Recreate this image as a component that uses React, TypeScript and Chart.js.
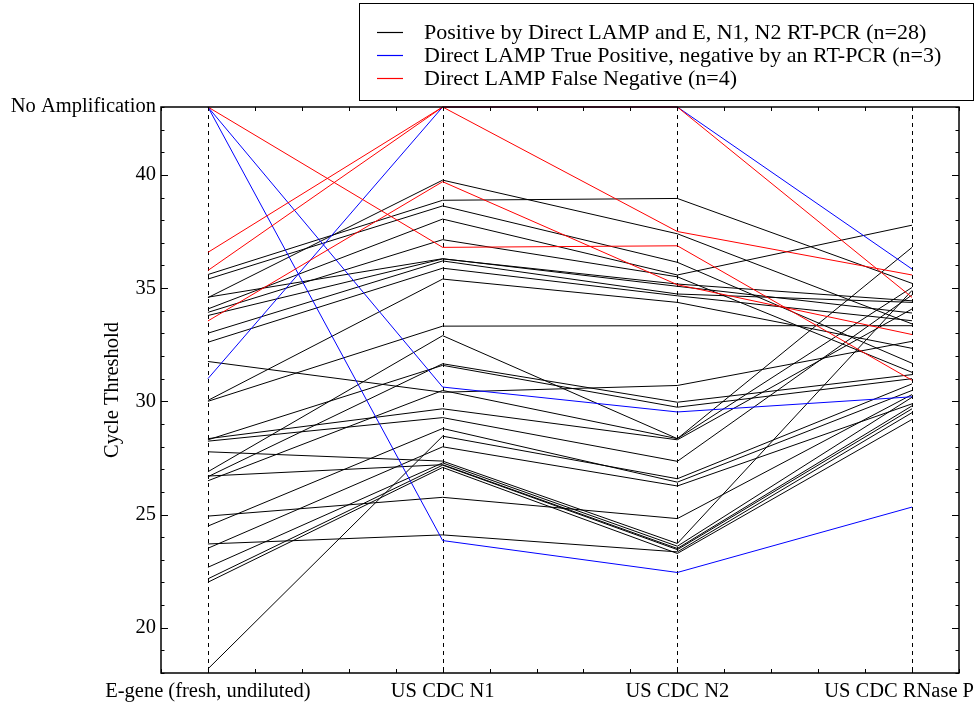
import { useEffect, useRef } from 'react';
import { Chart, registerables } from 'chart.js';

Chart.register(...registerables);

const categories = ['E-gene (fresh, undiluted)', 'US CDC N1', 'US CDC N2', 'US CDC RNase P'];
const NO_AMP = 43;
const noAmpLabel = 'No Amplification';
const yLabelTicks = [20, 25, 30, 35, 40];
const groupLabels = [
  'Positive by Direct LAMP and E, N1, N2 RT-PCR (n=28)',
  'Direct LAMP True Positive, negative by an RT-PCR (n=3)',
  'Direct LAMP False Negative (n=4)',
];
const groupColors = ['#000000', '#0000ff', '#ff0000'];

// Cycle threshold per sample: [E-gene, N1, N2, RNase P]; 43 = No Amplification
const blackLines = [
  [35.6, 38.88, 38.96, 35.21],
  [34.58, 39.77, 37.4, 33.42],
  [35.4, 38.63, 36.14, 31.68],
  [34.08, 38.05, 35.58, 37.78],
  [33.93, 37.14, 35.5, 31.28],
  [33.79, 36.29, 35.18, 34.44],
  [33.01, 36.2, 34.74, 34.37],
  [32.61, 35.88, 34.66, 33.56],
  [30.04, 35.4, 34.37, 32.34],
  [30.0, 33.32, 33.34, 33.34],
  [34.6, 36.3, 35.08, 33.9],
  [31.76, 30.4, 30.7, 32.65],
  [26.89, 32.9, 28.35, 36.8],
  [26.67, 31.66, 29.96, 31.18],
  [28.3, 31.59, 29.74, 31.0],
  [26.49, 30.48, 28.35, 35.03],
  [28.35, 29.67, 28.3, 34.08],
  [28.24, 29.28, 27.35, 34.7],
  [18.18, 28.46, 26.58, 30.77],
  [24.49, 28.8, 26.43, 30.48],
  [23.51, 27.99, 26.26, 29.89],
  [27.77, 27.36, 23.72, 34.9],
  [22.67, 27.28, 23.6, 30.18],
  [22.16, 27.18, 23.45, 29.67],
  [22.01, 27.08, 23.28, 29.2],
  [24.93, 25.76, 24.82, 30.3],
  [23.7, 24.1, 23.35, 29.5],
  [26.7, 27.2, 23.5, 29.8],
];
const blueLines = [
  [NO_AMP, 30.63, 29.53, 30.2],
  [NO_AMP, 23.85, 22.44, 25.33],
  [31.0, NO_AMP, NO_AMP, 35.84],
];
const redLines = [
  [NO_AMP, 36.8, 36.87, 30.93],
  [36.58, NO_AMP, NO_AMP, 34.59],
  [35.78, NO_AMP, 37.5, 35.58],
  [33.55, 39.7, 35.15, 32.95],
];

const FONT = 'Liberation Serif, "Times New Roman", Times, serif';
const FS = 20.5;
const LEGEND_FS = 22;

const makeDatasets = (lines: number[][], group: number) =>
  lines.map((vals, i) => ({
    label: i === 0 ? groupLabels[group] : '',
    data: vals.map((v, k) => ({ x: k, y: v })),
    borderColor: groupColors[group],
    backgroundColor: groupColors[group],
    borderWidth: 1,
    pointRadius: 0,
    fill: false,
    tension: 0,
    clip: 3,
  }));

const framePlugin = {
  id: 'framePlugin',
  beforeDatasetsDraw(chart: any) {
    const { ctx, chartArea: a, scales } = chart;
    ctx.save();
    ctx.strokeStyle = '#000';
    ctx.lineWidth = 1;
    ctx.setLineDash([4, 4]);
    categories.forEach((_, i) => {
      const x = Math.round(scales.x.getPixelForValue(i)) + 0.5;
      ctx.beginPath();
      ctx.moveTo(x, a.top);
      ctx.lineTo(x, a.bottom);
      ctx.stroke();
    });
    ctx.restore();
  },
  afterDatasetsDraw(chart: any) {
    const { ctx, chartArea: a, scales, width } = chart;
    ctx.save();
    ctx.strokeStyle = '#000';
    ctx.lineWidth = 1.5;
    ctx.setLineDash([]);
    ctx.strokeRect(a.left, a.top, a.right - a.left, a.bottom - a.top);
    ctx.lineWidth = 1;
    // x minor ticks
    for (let i = 0; i <= 17; i++) {
      const v = -0.2 + i * 0.2;
      const x = Math.round(scales.x.getPixelForValue(v)) + 0.5;
      ctx.beginPath();
      ctx.moveTo(x, a.bottom);
      ctx.lineTo(x, a.bottom - 4);
      ctx.moveTo(x, a.top);
      ctx.lineTo(x, a.top + 4);
      ctx.stroke();
    }
    // y ticks
    for (let v = 18; v <= 43; v++) {
      const y = Math.round(scales.y.getPixelForValue(v)) + 0.5;
      const len = v % 5 === 0 ? 7 : 3.5;
      ctx.beginPath();
      ctx.moveTo(a.left, y);
      ctx.lineTo(a.left + len, y);
      ctx.moveTo(a.right, y);
      ctx.lineTo(a.right - len, y);
      ctx.stroke();
    }
    // category labels under the axis (kept inside the figure)
    ctx.fillStyle = '#000';
    ctx.font = `${FS}px ${FONT}`;
    ctx.textAlign = 'left';
    ctx.textBaseline = 'middle';
    categories.forEach((lab, i) => {
      const w = ctx.measureText(lab).width;
      let x = scales.x.getPixelForValue(i) - w / 2;
      if (x + w > width - 3) x = width - 3 - w;
      ctx.fillText(lab, x, a.bottom + 19);
    });
    // legend box
    ctx.lineWidth = 1;
    ctx.strokeStyle = '#000';
    ctx.strokeRect(359.5, 3.5, 614, 97);
    ctx.font = `${LEGEND_FS}px ${FONT}`;
    groupLabels.forEach((lab, i) => {
      const y = 32 + i * 23;
      ctx.strokeStyle = groupColors[i];
      ctx.lineWidth = 1.2;
      ctx.beginPath();
      ctx.moveTo(377, y + 0.5);
      ctx.lineTo(403, y + 0.5);
      ctx.stroke();
      ctx.fillStyle = '#000';
      ctx.fillText(lab, 424, y + 1);
    });
    ctx.restore();
  },
};

export default function App() {
  const ref = useRef<HTMLCanvasElement>(null);
  useEffect(() => {
    if (!ref.current) return;
    const chart = new Chart(ref.current, {
      type: 'line',
      data: {
        datasets: [
          ...makeDatasets(redLines, 2),
          ...makeDatasets(blueLines, 1),
          ...makeDatasets(blackLines, 0),
        ],
      },
      options: {
        responsive: false,
        animation: false,
        layout: { padding: { top: 107, right: 18, left: 0, bottom: 0 } },
        plugins: { legend: { display: false }, tooltip: { enabled: false } },
        scales: {
          x: {
            type: 'linear',
            min: -0.2,
            max: 3.2,
            grid: { display: false, drawTicks: false },
            border: { display: false },
            ticks: { display: false, stepSize: 0.2 },
            afterFit: (s: any) => {
              s.height = 31;
            },
          },
          y: {
            type: 'linear',
            min: 18,
            max: 43,
            grid: { display: false, drawTicks: false },
            border: { display: false },
            title: {
              display: true,
              text: 'Cycle Threshold',
              color: '#000',
              font: { family: FONT, size: FS },
              padding: { top: 100, bottom: 0 },
            },
            ticks: {
              stepSize: 1,
              autoSkip: false,
              padding: 5,
              color: '#000',
              font: { family: FONT, size: FS },
              callback: (v: any) => {
                const n = Math.round(Number(v));
                if (n === NO_AMP) return noAmpLabel;
                return yLabelTicks.includes(n) ? String(n) : '';
              },
            },
            afterFit: (s: any) => {
              s.width = 161;
            },
          },
        },
      },
      plugins: [framePlugin],
    } as any);
    return () => chart.destroy();
  }, []);
  return (
    <div style={{ position: 'absolute', left: 0, top: 0, width: 977, height: 704, background: '#fff' }}>
      <canvas ref={ref} width={977} height={704} style={{ width: 977, height: 704, display: 'block' }} />
    </div>
  );
}
